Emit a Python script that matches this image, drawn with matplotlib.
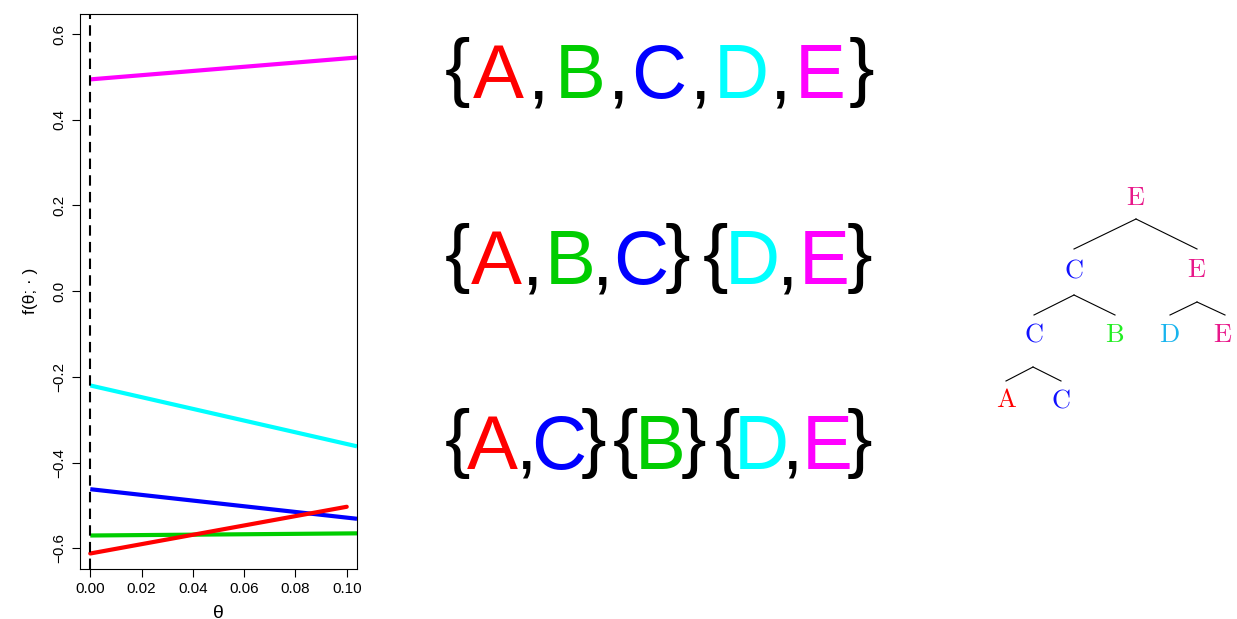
import matplotlib
matplotlib.use("Agg")
import matplotlib.pyplot as plt
from matplotlib.lines import Line2D

# ---------------- data ----------------
theta_full = [0.0, 0.104]
theta_red = [0.0, 0.10]
f_A = [-0.612, -0.503]   # red
f_B = [-0.570, -0.565]   # green
f_C = [-0.462, -0.531]   # blue
f_D = [-0.220, -0.362]   # cyan
f_E = [0.494, 0.545]     # magenta

x_ticks = [0.00, 0.02, 0.04, 0.06, 0.08, 0.10]
x_ticklabels = ["0.00", "0.02", "0.04", "0.06", "0.08", "0.10"]
y_ticks = [-0.6, -0.4, -0.2, 0.0, 0.2, 0.4, 0.6]
y_ticklabels = ["\u22120.6", "\u22120.4", "\u22120.2", "0.0", "0.2", "0.4", "0.6"]

col = {"A": "#FF0000", "B": "#00CD00", "C": "#0000FF", "D": "#00FFFF", "E": "#FF00FF"}

# partition rows: list of (glyph, colour key or None for black)
row1 = [("{", None), ("A", "A"), (",", None), ("B", "B"), (",", None), ("C", "C"),
        (",", None), ("D", "D"), (",", None), ("E", "E"), ("}", None)]
row2 = [("{", None), ("A", "A"), (",", None), ("B", "B"), (",", None), ("C", "C"),
        ("}", None), ("{", None), ("D", "D"), (",", None), ("E", "E"), ("}", None)]
row3 = [("{", None), ("A", "A"), (",", None), ("C", "C"), ("}", None), ("{", None),
        ("B", "B"), ("}", None), ("{", None), ("D", "D"), (",", None), ("E", "E"), ("}", None)]

# tree nodes: label, colour
tree_col = {"A": "#FF0000", "B": "#22EE22", "C": "#1010FF", "D": "#18B4EE", "E": "#E8188A"}
tree_labels = ["E", "C", "E", "C", "B", "D", "E", "A", "C"]

# ---------------- layout ----------------
W, H = 1237, 619
fig = plt.figure(figsize=(W / 100, H / 100), dpi=100)

ax = fig.add_axes([80 / W, 1 - 568.5 / H, (357 - 80) / W, (568.5 - 13.8) / H])
lw = 3.0
ax.plot(theta_full, f_E, color=col["E"], lw=lw, solid_capstyle="butt")
ax.plot(theta_full, f_D, color=col["D"], lw=lw, solid_capstyle="butt")
ax.plot(theta_full, f_C, color=col["C"], lw=lw, solid_capstyle="butt")
ax.plot(theta_full, f_B, color=col["B"], lw=lw, solid_capstyle="butt")
ax.plot(theta_red, f_A, color=col["A"], lw=lw, solid_capstyle="round")
ax.axvline(0.0, color="black", lw=1.5, ls=(0, (5, 3)))
ax.set_xlim(-0.004, 0.104)
ax.set_ylim(-0.647, 0.647)
ax.set_xticks(x_ticks)
ax.set_xticklabels(x_ticklabels, fontsize=11, family="Liberation Sans")
ax.set_yticks(y_ticks)
ax.set_yticklabels(y_ticklabels, fontsize=11, family="Liberation Sans",
                   rotation=90, va="center")
ax.tick_params(direction="out", length=6, width=0.8, pad=4)
for s in ax.spines.values():
    s.set_linewidth(0.8)
ax.set_xlabel("\u03b8", fontsize=14, family="Liberation Sans", labelpad=6)
ax.set_ylabel("f(\u03b8; \u00b7 )", fontsize=12.5, family="Liberation Sans", labelpad=10)

# overlay in pixel coordinates
ov = fig.add_axes([0, 0, 1, 1])
ov.set_xlim(0, W)
ov.set_ylim(H, 0)
ov.axis("off")
ov.patch.set_alpha(0)

big = dict(fontsize=55, family="Liberation Sans", ha="center", va="baseline")
row_x = [
    [458, 498, 538, 580, 618, 659, 700, 741, 780, 820, 861],
    [458, 496, 532, 570, 602, 641, 678, 715, 752, 787, 824, 860],
    [458, 492, 526, 559, 593, 625, 660, 694, 727, 761, 792, 827, 860],
]
row_base = [98, 284, 469]
for r, xs, yb in zip([row1, row2, row3], row_x, row_base):
    for (g, c), xx in zip(r, xs):
        dy = -6 if g in "{}" else 0
        ov.text(xx, yb + dy, g, color=col[c] if c else "black", **big)

plt.rcParams["mathtext.fontset"] = "cm"
tree_pos = [(1136, 205), (1074, 277), (1197, 277), (1034, 342), (1115, 342),
            (1169, 342), (1223, 342), (1006, 407), (1061, 407)]
for lab, (xx, yy) in zip(tree_labels, tree_pos):
    ov.text(xx, yy, r"$\mathrm{%s}$" % lab, color=tree_col[lab], fontsize=19,
            ha="center", va="baseline")

edges = [((1136, 219), (1074, 249)), ((1136, 219), (1197, 249)),
         ((1074, 295), (1034, 315)), ((1074, 295), (1115, 315)),
         ((1197, 302), (1170, 315)), ((1197, 302), (1225, 315)),
         ((1033, 367), (1006, 381)), ((1033, 367), (1061, 381))]
for (x0, y0), (x1, y1) in edges:
    ov.add_line(Line2D([x0, x1], [y0, y1], color="black", lw=0.8))

fig.savefig("out.png", dpi=100)
